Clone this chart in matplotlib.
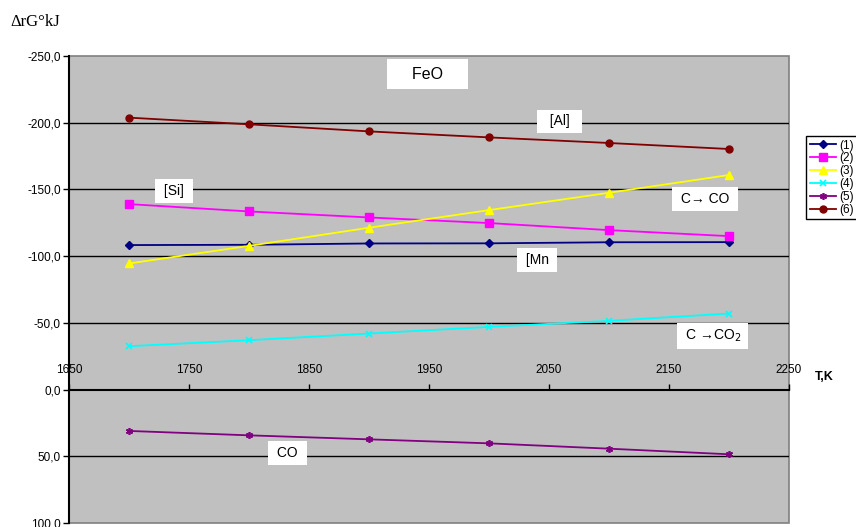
import matplotlib
matplotlib.use("Agg")
import matplotlib.pyplot as plt
from matplotlib.ticker import FuncFormatter, FixedLocator
from matplotlib.patches import Rectangle

plt.rcParams['font.family'] = ['Liberation Sans', 'DejaVu Sans']

T = [1700, 1800, 1900, 2000, 2100, 2200]
s1 = [-108.3, -108.5, -109.5, -109.6, -110.4, -110.5]
s2 = [-139.0, -133.5, -129.0, -124.8, -119.5, -115.0]
s3 = [-94.5, -107.7, -121.3, -134.5, -147.5, -160.8]
s4 = [-32.5, -37.0, -42.0, -47.0, -51.5, -57.0]
s5 = [31.0, 34.3, 37.3, 40.3, 44.3, 48.5]
s6 = [-203.8, -198.8, -193.5, -189.0, -184.8, -180.3]
series_labels = ['(1)', '(2)', '(3)', '(4)', '(5)', '(6)']
x_ticks = [1650, 1750, 1850, 1950, 2050, 2150, 2250]
y_ticks = [-250, -200, -150, -100, -50, 0, 50, 100]

W, H = 856, 527
fig = plt.figure(figsize=(W / 100, H / 100), dpi=100)
ax = fig.add_axes([69 / W, (H - 523) / H, (789 - 69) / W, (523 - 56) / H])
ax.set_facecolor('#C0C0C0')
ax.set_xlim(1650, 2250)
ax.set_ylim(100, -250)

# gridlines
for yv in y_ticks[1:-1]:
    if yv != 0:
        ax.axhline(yv, color='black', lw=1.0, zorder=1)

styles = [
    dict(color='#000080', marker='D', ms=4),
    dict(color='#FF00FF', marker='s', ms=6),
    dict(color='#FFFF00', marker='^', ms=6),
    dict(color='#00FFFF', marker='x', ms=5, mew=1.2),
    dict(color='#800080', marker=(6, 2, 0), ms=5, mew=1.2),
    dict(color='#800000', marker='o', ms=5),
]
for data, st, lab in zip([s1, s2, s3, s4, s5, s6], styles, series_labels):
    ax.plot(T, data, lw=1.3, label=lab, zorder=3, **st)

# axes styling
for side in ['right', 'bottom']:
    ax.spines[side].set_visible(False)
ax.add_patch(Rectangle((0, 0), 1, 1, transform=ax.transAxes, fill=False,
                       edgecolor='#808080', lw=1.2, clip_on=False, zorder=0.5))
ax.spines['left'].set_color('black')
ax.spines['left'].set_linewidth(1.5)
ax.xaxis.set_ticks_position('top')
ax.spines['top'].set_position(('data', 0))
ax.spines['top'].set_color('black')
ax.spines['top'].set_linewidth(1.5)
ax.spines['top'].set_zorder(2)
ax.xaxis.set_major_locator(FixedLocator(x_ticks))
ax.yaxis.set_major_locator(FixedLocator(y_ticks))
ax.tick_params(axis='x', direction='out', length=4, width=1, pad=6, labelsize=8.5)
ax.tick_params(axis='y', direction='out', length=4, width=1, pad=2, labelsize=8.5)
ax.yaxis.set_major_formatter(FuncFormatter(lambda v, p: f"{v:.1f}".replace('.', ',')))
ax.xaxis.set_major_formatter(FuncFormatter(lambda v, p: f"{int(v)}"))

# annotation boxes
box = dict(boxstyle='square,pad=0.35', facecolor='white', edgecolor='none')
ax.text(1949, -236.5, '    FeO    ', fontsize=11.5, ha='center', va='center', bbox=dict(boxstyle='square,pad=0.45', facecolor='white', edgecolor='none'), zorder=5)
ax.text(2059, -201, '  [Al]  ', fontsize=10, ha='center', va='center', bbox=box, zorder=5)
ax.text(1737.5, -149, ' [Si] ', fontsize=10, ha='center', va='center', bbox=box, zorder=5)
ax.text(2180, -143, ' C\u2192 CO ', fontsize=10, ha='center', va='center', bbox=box, zorder=5)
ax.text(2040, -97, ' [Mn ', fontsize=10, ha='center', va='center', bbox=box, zorder=5)
ax.text(2186, -40, ' C \u2192CO$_2$ ', fontsize=10, ha='center', va='center', bbox=box, zorder=5)
ax.text(1832, 47.75, ' CO ', fontsize=10, ha='center', va='center', bbox=box, zorder=5)

# axis titles
fig.text(10 / W, 1 - 22 / H, '\u0394rG\u00b0kJ', fontsize=12, family=['Liberation Serif', 'DejaVu Serif'], ha='left', va='center')
fig.text(815 / W, 1 - 377 / H, 'T,K', fontsize=9, fontweight='bold', ha='left', va='center')

leg = fig.legend(loc='upper left', bbox_to_anchor=(806 / W, 1 - 136 / H), fontsize=8.5,
                 frameon=True, fancybox=False, edgecolor='black', framealpha=1,
                 labelspacing=0.07, handlelength=2.2, handletextpad=0.3,
                 borderpad=0.3, borderaxespad=0)
leg.get_frame().set_linewidth(1.0)

fig.savefig('out.png', dpi=100)
